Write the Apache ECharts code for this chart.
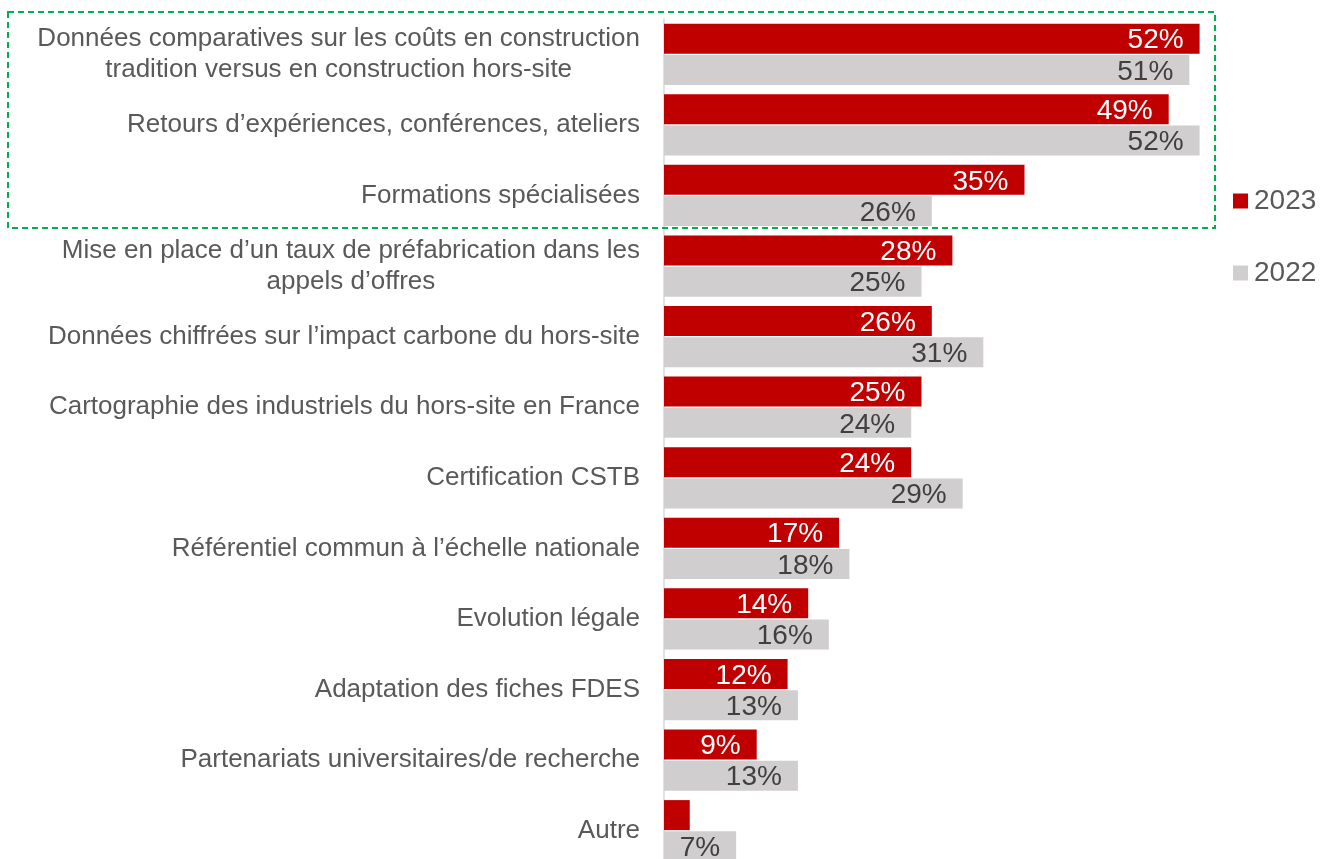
<!DOCTYPE html>
<html>
<head>
<meta charset="utf-8">
<script src="https://cdn.jsdelivr.net/npm/echarts@6/dist/echarts.min.js"></script>
<style>
  html, body { margin: 0; padding: 0; background: #fff; }
  #chart { width: 1325px; height: 859px; }
</style>
</head>
<body>
<div id="chart"></div>
<script>
const categories = [
  "Données comparatives sur les coûts en construction\ntradition versus en construction hors-site",
  "Retours d’expériences, conférences, ateliers",
  "Formations spécialisées",
  "Mise en place d’un taux de préfabrication dans les\nappels d’offres",
  "Données chiffrées sur l’impact carbone du hors-site",
  "Cartographie des industriels du hors-site en France",
  "Certification CSTB",
  "Référentiel commun à l’échelle nationale",
  "Evolution légale",
  "Adaptation des fiches FDES",
  "Partenariats universitaires/de recherche",
  "Autre"
];
const values2023 = [52, 49, 35, 28, 26, 25, 24, 17, 14, 12, 9, 2.5];
const values2022 = [51, 52, 26, 25, 31, 24, 29, 18, 16, 13, 13, 7];

const chart = echarts.init(document.getElementById("chart"));

// lines of a multi-line label are centred on each other, the block is right-aligned
const catFormatter = (v) => v.split("\n").map((l) => "{c|" + l + "}").join("\n");
const pct = (p) => (p.value < 5 ? "" : Math.round(p.value) + "%");

const option = {
  animation: false,
  textStyle: { fontFamily: "Liberation Sans, Arial, sans-serif" },
  legend: {
    orient: "vertical",
    left: 1233,
    top: 187,
    padding: 0,
    itemWidth: 15,
    itemHeight: 15,
    itemGap: 44,
    icon: "rect",
    textStyle: { fontSize: 28, color: "#595959", padding: [0, 0, 0, 1] },
    data: ["2023", "2022"]
  },
  grid: { left: 664, top: 19, width: 618, height: 847, outerBoundsMode: "none" },
  xAxis: {
    type: "value",
    min: 0,
    max: 60,
    show: false
  },
  yAxis: {
    type: "category",
    inverse: true,
    data: categories,
    axisLine: { show: true, lineStyle: { color: "#D9D9D9", width: 1.5 } },
    axisTick: { show: false },
    axisLabel: {
      margin: 24,
      fontSize: 26,
      color: "#595959",
      lineHeight: 31,
      formatter: catFormatter,
      rich: { c: { align: "center", fontSize: 26, color: "#595959", lineHeight: 31 } }
    }
  },
  series: [
    {
      name: "2023",
      type: "bar",
      data: values2023,
      barWidth: 30,
      barGap: "4%",
      itemStyle: { color: "#C00000" },
      label: {
        show: true,
        position: "insideRight",
        distance: 16,
        offset: [0, 2],
        fontSize: 28,
        color: "#FFFFFF",
        formatter: pct
      }
    },
    {
      name: "2022",
      type: "bar",
      data: values2022,
      barWidth: 30,
      itemStyle: { color: "#D0CECE" },
      label: {
        show: true,
        position: "insideRight",
        distance: 16,
        offset: [0, 2],
        fontSize: 28,
        color: "#404040",
        formatter: pct
      }
    }
  ],
  graphic: [
    {
      type: "rect",
      shape: { x: 8, y: 12, width: 1207, height: 216 },
      style: { fill: null, stroke: "#00B050", lineWidth: 2, lineDash: [6, 4] },
      z: 10
    }
  ]
};

chart.setOption(option);
</script>
</body>
</html>
